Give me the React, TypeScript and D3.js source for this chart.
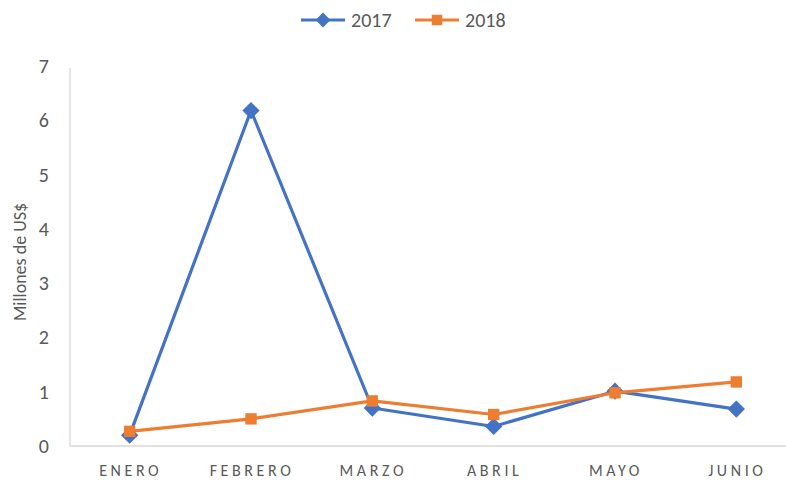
import React from 'react';
import * as d3 from 'd3';

const width = 786;
const height = 480;

const months = ['ENERO', 'FEBRERO', 'MARZO', 'ABRIL', 'MAYO', 'JUNIO'];
const values2017 = [0.2, 6.18, 0.7, 0.36, 1.01, 0.68];
const values2018 = [0.27, 0.5, 0.83, 0.58, 0.98, 1.18];
const yTicks = [0, 1, 2, 3, 4, 5, 6, 7];

const series = [
    { name: '2017', values: values2017, color: '#4472C4', shape: d3.symbolDiamond2 },
    { name: '2018', values: values2018, color: '#ED7D31', shape: d3.symbolSquare2 },
];

const font = "Carlito, 'Open Sans', 'Liberation Sans', sans-serif";
const textColor = '#595959';

const x = d3.scaleBand<string>()
    .domain(months)
    .range([69, 797]);

const y = d3.scaleLinear()
    .domain([0, 7])
    .range([446, 66]);

const line = d3.line<number>()
    .x((d, i) => x(months[i])! + x.bandwidth() / 2)
    .y(d => y(d));

// legend positions
const legend = [
    { x: 301, textX: 351 },
    { x: 415, textX: 465 },
];

export default function App() {
    return (
        <svg width={width} height={height}
            style={{ position: 'absolute', left: 0, top: 0, background: '#fff', fontFamily: font }}>
            {/* y axis line */}
            <line x1={70} x2={70} y1={y(7) + 2} y2={y(0)} stroke="#d9d9d9" strokeWidth={1.3} />
            {/* x axis line */}
            <line x1={70} x2={width} y1={y(0)} y2={y(0)} stroke="#d9d9d9" strokeWidth={1.3} />

            {yTicks.map(t => (
                <text key={t} x={49} y={y(t)} dy="0.35em" textAnchor="end"
                    fontSize={20} fill={textColor}>{t}</text>
            ))}

            {months.map(m => (
                <text key={m} x={x(m)! + x.bandwidth() / 2 + 1} y={470} dy="0.35em" textAnchor="middle"
                    fontSize={16} letterSpacing={3.6} fill={textColor}>{m}</text>
            ))}

            <text transform={`translate(20,${(y(0) + y(7)) / 2 + 6}) rotate(-90)`} textAnchor="middle"
                dy="0.35em" fontSize={18} fill={textColor}>Millones de US$</text>

            {series.map(s => (
                <g key={s.name}>
                    <path d={line(s.values)!} fill="none" stroke={s.color} strokeWidth={3.2}
                        strokeLinejoin="round" />
                    {s.values.map((v, i) => (
                        <path key={i}
                            transform={`translate(${x(months[i])! + x.bandwidth() / 2},${y(v)})`}
                            d={d3.symbol(s.shape, s.name === '2017' ? 190 : 165)()!}
                            fill={s.color} />
                    ))}
                </g>
            ))}

            {series.map((s, i) => (
                <g key={'lg' + s.name}>
                    <line x1={legend[i].x} x2={legend[i].x + 44} y1={20} y2={20}
                        stroke={s.color} strokeWidth={3.2} />
                    <path transform={`translate(${legend[i].x + 22},20)`}
                        d={d3.symbol(s.shape, 140)()!} fill={s.color} />
                    <text x={legend[i].textX} y={20} dy="0.35em" fontSize={20} fill={textColor}>{s.name}</text>
                </g>
            ))}
        </svg>
    );
}
